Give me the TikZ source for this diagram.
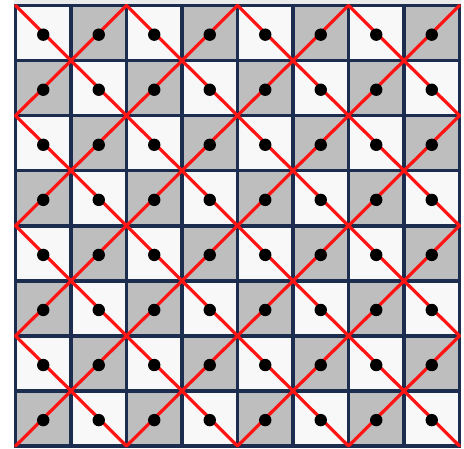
\documentclass[tikz,border=0pt]{standalone}
\usepackage{xcolor}
\definecolor{ink}{HTML}{1C2D50}
\definecolor{shade}{HTML}{BEBEBE}
\definecolor{paper}{HTML}{F8F8F8}
\definecolor{diag}{HTML}{FF1414}
\tikzset{
  lightcell/.style={fill=paper},
  darkcell/.style={fill=shade},
  gridline/.style={draw=ink,line width=3.6pt,line cap=rect},
  diagline/.style={draw=diag,line width=3.2pt,line cap=round},
  dot/.style={fill=black},
}

\begin{document}
\begin{tikzpicture}[x=1pt,y=-1pt]
\useasboundingbox (0,0) rectangle (464,449);
\fill[black!8] (14,0) rectangle (461,6);

\begin{scope}[xshift=15.5pt,yshift=-5.5pt,x=55.5pt,y=-55.06pt]
% checkerboard
\foreach \r in {0,...,7}
  \foreach \c in {0,...,7} {
    \pgfmathtruncatemacro{\odd}{mod(\r+\c,2)}
    \ifnum\odd=0
      \fill[lightcell] (\c,\r) rectangle ++(1,1);
    \else
      \fill[darkcell] (\c,\r) rectangle ++(1,1);
    \fi
  }

\foreach \k in {0,...,8} {
  \draw[gridline] (\k,0) -- (\k,8);
  \draw[gridline] (0,\k) -- (8,\k);
}

% diagonals, then the dots on top
\foreach \r in {0,...,7}
  \foreach \c in {0,...,7} {
    \pgfmathtruncatemacro{\odd}{mod(\r+\c,2)}
    \ifnum\odd=0
      \draw[diagline] (\c,\r) -- ++(1,1);
    \else
      \draw[diagline] (\c+1,\r) -- ++(-1,1);
    \fi
  }

\foreach \r in {0,...,7}
  \foreach \c in {0,...,7}
    \fill[dot] (\c+.5,\r+.53) circle (6.2pt);
\end{scope}

\end{tikzpicture}
\end{document}
